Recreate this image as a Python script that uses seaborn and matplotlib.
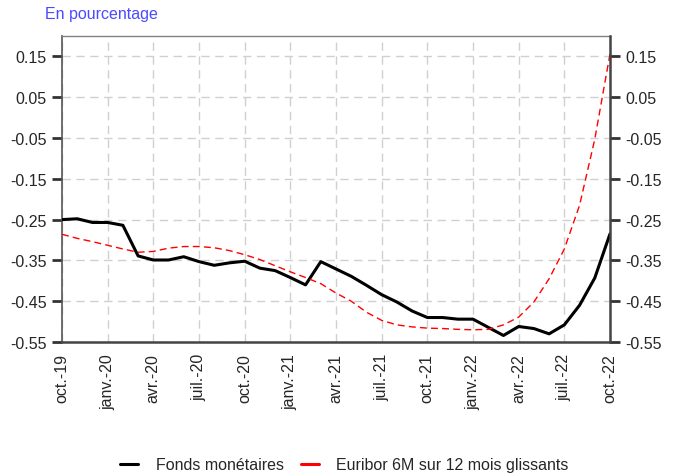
import numpy as np
import pandas as pd
import matplotlib
matplotlib.use("Agg")
import matplotlib.pyplot as plt
import seaborn as sns
from matplotlib.lines import Line2D

months = pd.date_range("2019-10-01", "2022-10-01", freq="MS")
fonds = [-0.250, -0.248, -0.257, -0.257, -0.264, -0.339, -0.349, -0.349, -0.341,
         -0.353, -0.362, -0.356, -0.352, -0.369, -0.375, -0.392, -0.410, -0.353,
         -0.371, -0.389, -0.411, -0.434, -0.452, -0.474, -0.490, -0.490, -0.494,
         -0.494, -0.514, -0.534, -0.512, -0.517, -0.530, -0.508, -0.460, -0.393,
         -0.285]
euribor = [-0.286, -0.296, -0.304, -0.313, -0.322, -0.330, -0.328, -0.320, -0.316,
           -0.316, -0.319, -0.326, -0.336, -0.348, -0.363, -0.378, -0.392, -0.407,
           -0.430, -0.450, -0.477, -0.497, -0.508, -0.513, -0.516, -0.517, -0.519,
           -0.520, -0.519, -0.508, -0.489, -0.452, -0.395, -0.322, -0.215, -0.053,
           0.156]
xlabels = ["oct.-19", "janv.-20", "avr.-20", "juil.-20", "oct.-20", "janv.-21",
           "avr.-21", "juil.-21", "oct.-21", "janv.-22", "avr.-22", "juil.-22", "oct.-22"]
yticks = [0.15, 0.05, -0.05, -0.15, -0.25, -0.35, -0.45, -0.55]
series_names = ["Fonds monétaires", "Euribor 6M sur 12 mois glissants"]

sns.set_style("white")
plt.rcParams['font.family'] = ['Liberation Sans', 'DejaVu Sans']
plt.rcParams['font.size'] = 11.5

idx = np.arange(len(months))
df = pd.DataFrame({"x": np.concatenate([idx, idx]),
                   "val": fonds + euribor,
                   "serie": [series_names[0]] * len(idx) + [series_names[1]] * len(idx)})

fig = plt.figure(figsize=(6.75, 4.77), dpi=100)
ax = fig.add_axes([62/675, 1-343/477, (610-62)/675, (343-37)/477])

sns.lineplot(data=df, x="x", y="val", hue="serie", style="serie",
             palette={series_names[0]: "black", series_names[1]: "red"},
             dashes={series_names[0]: "", series_names[1]: (5, 3)},
             ax=ax, legend=False, zorder=3)
for line, lw in zip(ax.get_lines(), [2.2, 1.0]):
    line.set_linewidth(lw)

ax.set_xlim(0, len(idx) - 1)
ax.set_ylim(-0.55, 0.20)
ax.set_yticks(yticks)
ax.set_yticklabels([f"{v:.2f}" for v in yticks])
ax.set_xticks(idx[::3])
ax.set_xticklabels(xlabels, rotation=90)
ax.set_xticks(idx, minor=True)
ax.set_xlabel("")
ax.set_ylabel("")

ax.grid(True, which="major", color="#d0d0d0", linestyle=(0, (6, 4)), linewidth=1)
ax.set_axisbelow(True)

ax.tick_params(axis="y", which="major", direction="out", length=7, width=2,
               color="#333333", pad=4, labelsize=11.5)
ax.tick_params(axis="x", which="both", direction="out", length=5, width=1.5,
               color="#333333", pad=3, labelsize=11.5)

ax.spines["top"].set_color("#808080")
ax.spines["top"].set_linewidth(1)
ax.spines["left"].set_color("#555555")
ax.spines["left"].set_linewidth(1.2)
ax.spines["bottom"].set_color("#444444")
ax.spines["bottom"].set_linewidth(1.8)
ax.spines["right"].set_visible(False)

ax2 = ax.twinx()
ax2.set_ylim(ax.get_ylim())
ax2.set_yticks(yticks)
ax2.set_yticklabels([f"{v:.2f}" for v in yticks])
ax2.tick_params(axis="y", direction="out", length=7, width=2, color="#333333",
                pad=4, labelsize=11.5)
for s in ["top", "left", "bottom"]:
    ax2.spines[s].set_visible(False)
ax2.spines["right"].set_color("#444444")
ax2.spines["right"].set_linewidth(1.8)

fig.text(45/675, 1-15/477, "En pourcentage", color="#4a4aff", fontsize=11.5,
         ha="left", va="center")

handles = [Line2D([], [], color="black", lw=2.2),
           Line2D([], [], color="red", lw=2.2)]
fig.legend(handles, series_names, loc="center", bbox_to_anchor=(344.5/675, 1-466/477),
           ncol=2, frameon=False, fontsize=11.5, handlelength=1.1,
           columnspacing=1.1, handletextpad=1.1)

fig.savefig("out.png", dpi=100)
